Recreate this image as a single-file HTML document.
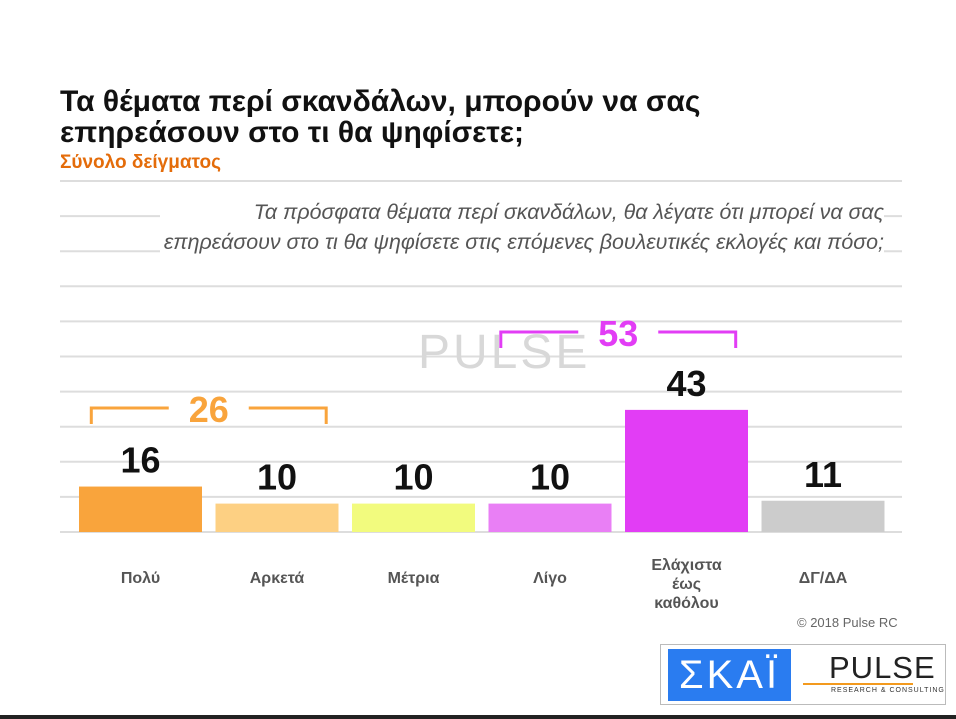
<!DOCTYPE html>
<html><head><meta charset="utf-8"><style>
body{margin:0;width:956px;height:719px;background:#fff;font-family:"Liberation Sans",sans-serif;overflow:hidden;position:relative}
.t{position:absolute;white-space:nowrap}
</style></head><body>
<svg id="c" width="956" height="719" style="position:absolute;left:0;top:0"></svg>
<div class="t" style="left:60px;top:86px;font-size:30px;font-weight:bold;line-height:31px;color:#111">Τα θέματα περί σκανδάλων, μπορούν να σας<br>επηρεάσουν στο τι θα ψηφίσετε;</div>
<div class="t" style="left:60px;top:152px;font-size:19px;font-weight:bold;color:#e46c0a">Σύνολο δείγματος</div>
<div class="t" style="right:72px;top:197px;font-size:21.4px;font-style:italic;color:#555;text-align:right;line-height:30px;background:#fff;padding-left:4px">Τα πρόσφατα θέματα περί σκανδάλων, θα λέγατε ότι μπορεί να σας<br>επηρεάσουν στο τι θα ψηφίσετε στις επόμενες βουλευτικές εκλογές και πόσο;</div>
<div class="t" style="left:797px;top:615px;font-size:13px;color:#666">© 2018 Pulse RC</div>
<div style="position:absolute;left:660px;top:644px;width:286px;height:61px;border:1px solid #bbb;box-sizing:border-box;overflow:hidden">
<div style="position:absolute;left:7px;top:4px;width:123px;height:52px;background:#2a7cf0;color:#fff;font-size:40px;line-height:52px;text-align:center;letter-spacing:3px">ΣΚΑΪ</div>
<div style="position:absolute;left:168px;top:6px;font-size:31px;color:#222;letter-spacing:1px;line-height:34px">PULSE</div>
<div class="t" style="left:170px;top:42px;font-size:7px;color:#333;letter-spacing:1px">RESEARCH &amp; CONSULTING</div>
<div style="position:absolute;left:142px;top:38px;width:110px;height:2px;background:#f39a1e"></div>
</div>
<div style="position:absolute;left:0;top:715px;width:956px;height:4px;background:#222"></div>
<script>
const categories=["Πολύ","Αρκετά","Μέτρια","Λίγο","Ελάχιστα έως καθόλου","ΔΓ/ΔΑ"];
const values=[16,10,10,10,43,11];
const colors=["#f9a43c","#fdd083","#f2fb7e","#e97ff5","#e23df5","#cccccc"];
const groupTotals=[26,53];
const svg=document.getElementById('c');const NS="http://www.w3.org/2000/svg";
const base=532,scale=2.84,x0=79,step=136.5,bw=123;
function y(v){return base-v*scale}
function X(i){return x0+i*step}
function mk(t,a,txt){const e=document.createElementNS(NS,t);for(const k in a)e.setAttribute(k,a[k]);if(txt!=null)e.textContent=txt;svg.appendChild(e);return e}
for(let i=0;i<10;i++){const gy=181+i*35.1;const l=mk('line',{x1:60,x2:902,y1:gy,y2:gy,stroke:'#ddd','stroke-width':2});
}
const bl=mk('line',{x1:60,x2:902,y1:532,y2:532,stroke:'#ddd','stroke-width':2});

const wm=mk('text',{x:418,y:368,'font-size':48,fill:'#d8d8d8','letter-spacing':3},'PULSE');

values.forEach((v,i)=>{
const r=mk('rect',{x:X(i),y:y(v),width:bw,height:v*scale,fill:colors[i]});

const t=mk('text',{x:X(i)+bw/2,y:y(v)-14,'font-size':36,'font-weight':'bold','text-anchor':'middle',fill:'#111'},v);

const lines=categories[i]=="Ελάχιστα έως καθόλου"?["Ελάχιστα","έως","καθόλου"]:[categories[i]];
lines.forEach((s,j)=>{const c=mk('text',{x:X(i)+bw/2,y:(lines.length>1?570:583)+j*19,'font-size':16,'font-weight':'bold','text-anchor':'middle',fill:'#555'},s);
});
});
function bracket(i1,i2,val,col,top){
const a=X(i1)+bw*0.1,b=X(i2)+bw*0.9,m=(a+b)/2;
const p=mk('path',{d:`M${a} ${top+16}V${top}H${m-40}M${m+40} ${top}H${b}V${top+16}`,fill:'none',stroke:col,'stroke-width':3});

const t=mk('text',{x:m,y:top+14,'font-size':36,'font-weight':'bold','text-anchor':'middle',fill:col},val);
}
bracket(0,1,groupTotals[0],'#f9a43c',408);
bracket(3,4,groupTotals[1],'#e23df5',332);
</script>
</body></html>
